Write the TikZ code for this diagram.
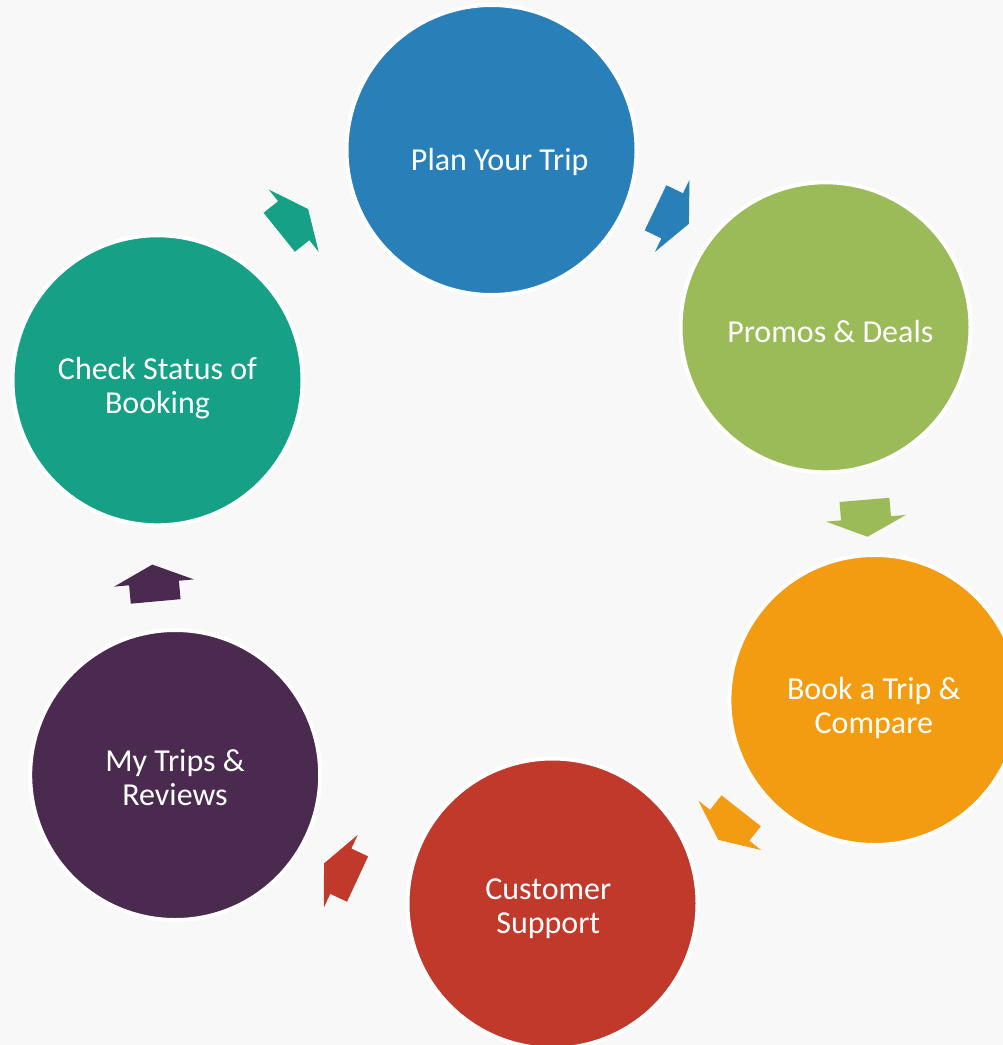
\documentclass[tikz,border=0pt]{standalone}
\usepackage{fontspec}
\setmainfont{Carlito}
\usetikzlibrary{calc}
\definecolor{pagebg}{HTML}{F8F8F8}
\definecolor{planblue}{HTML}{2980B9}
\definecolor{promogreen}{HTML}{9BBB59}
\definecolor{bookorange}{HTML}{F39C12}
\definecolor{supportred}{HTML}{C0392B}
\definecolor{tripspurple}{HTML}{4A2B4F}
\definecolor{statusteal}{HTML}{16A085}
\tikzset{
  stage/.style={circle,draw=white,line width=4bp,minimum size=290bp,inner sep=0pt,fill=#1},
  stagetext/.style={text=white,align=center,anchor=base,inner sep=0pt,font=\fontsize{32bp}{34bp}\selectfont},
}
\begin{document}
\begin{tikzpicture}[x=1bp,y=-1bp]
 \path[use as bounding box] (0,0) rectangle (1003,1045);
 \clip (0,0) rectangle (1003,1045);
 \fill[pagebg] (0,0) rectangle (1003,1045);
 % the six stages
 \node[stage=planblue] (plan) at (491.5,150) {};
 \node[stage=promogreen] (promos) at (825.5,327.3) {};
 \node[stage=bookorange] (book) at (874.4,700) {};
 \node[stage=supportred] (support) at (552.5,903.5) {};
 \node[stage=tripspurple] (mytrips) at (175.2,775) {};
 \node[stage=statusteal] (status) at (157.5,380.3) {};
 % block arrows between the stages
 \foreach \x/\y/\a/\c in {293.7/220.7/38.7/statusteal,672.2/215.8/-25.6/planblue,
   866/518.3/-85.2/promogreen,729.7/825.3/-128.2/bookorange,
   340.8/871.2/155/supportred,154/583/95.2/tripspurple}
   \fill[\c,shift={(\x,\y)},rotate=\a] (-18.5,-25)--(0,-25)--(0,-40)--(18.5,0)--(0,40)--(0,25)--(-18.5,25)--cycle;
 % labels (base = last line)
 \node[stagetext] (plan-label) at ($(plan)+(8.2,20)$) {Plan Your Trip};
 \node[stagetext] (promos-label) at ($(promos)+(4.8,15.4)$) {Promos \& Deals};
 \node[stagetext] (book-label) at ($(book)+(-0.6,33)$) {Book a Trip \&\\Compare};
 \node[stagetext] (support-label) at ($(support)+(-4.2,29.5)$) {Customer\\Support};
 \node[stagetext] (mytrips-label) at ($(mytrips)+(-0.2,30)$) {My Trips \&\\Reviews};
 \node[stagetext] (status-label) at ($(status)+(0,33)$) {Check Status of\\Booking};
\end{tikzpicture}
\end{document}
